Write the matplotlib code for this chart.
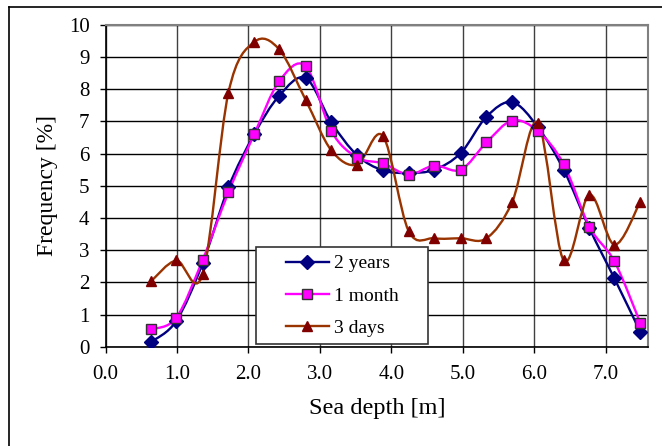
import numpy as np
import matplotlib
matplotlib.use('Agg')
from matplotlib import pyplot as plt
from matplotlib.path import Path
from matplotlib.patches import PathPatch, Rectangle
from matplotlib.lines import Line2D

plt.rcParams['font.family'] = ['Liberation Serif', 'DejaVu Serif']

# sea depth [m]
depth = [0.64, 0.99, 1.36, 1.72, 2.08, 2.43, 2.80, 3.16, 3.52, 3.88,
         4.24, 4.60, 4.97, 5.33, 5.69, 6.05, 6.41, 6.77, 7.12, 7.48]

# frequency [%]
freq_2years = [0.15, 0.8, 2.6, 4.95, 6.6, 7.8, 8.35, 6.97, 5.95, 5.48,
               5.4, 5.5, 6.02, 7.15, 7.6, 6.82, 5.5, 3.68, 2.12, 0.47]
freq_1month = [0.54, 0.9, 2.7, 4.8, 6.6, 8.25, 8.72, 6.7, 5.88, 5.7,
               5.35, 5.63, 5.5, 6.35, 7.03, 6.7, 5.67, 3.73, 2.65, 0.75]
freq_3days = [2.04, 2.68, 2.26, 7.9, 9.47, 9.24, 7.67, 6.1, 5.66, 6.55,
              3.6, 3.37, 3.37, 3.37, 4.5, 6.96, 2.68, 4.72, 3.17, 4.5]

series = [
    ('2 years', freq_2years, '#000080', 'D', 6.8, '#000080', '#000080'),
    ('1 month', freq_1month, '#FF00FF', 's', 7.5, '#FF00FF', '#333333'),
    ('3 days', freq_3days, '#993300', '^', 6.5, '#800000', '#800000'),
]


def smooth_path(x, y, t=1.0 / 6):
    # excel-like smoothed line: cubic bezier through the points
    pts = np.column_stack([x, y])
    n = len(pts)
    verts = [pts[0]]
    codes = [Path.MOVETO]
    for i in range(n - 1):
        p0 = pts[max(i - 1, 0)]
        p1 = pts[i]
        p2 = pts[i + 1]
        p3 = pts[min(i + 2, n - 1)]
        verts += [p1 + (p2 - p0) * t, p2 - (p3 - p1) * t, p2]
        codes += [Path.CURVE4] * 3
    return Path(verts, codes)


fig = plt.figure(figsize=(6.62, 4.46), dpi=100)
ax = fig.add_axes([0.1594, 0.2227, 0.8195, 0.7213])

for label, yv, lc, mk, ms, mfc, mec in series:
    ax.add_patch(PathPatch(smooth_path(depth, yv), fill=False, ec=lc, lw=1.7, zorder=3))
    ax.plot(depth, yv, ls='none', marker=mk, ms=ms, mfc=mfc, mec=mec, mew=1, zorder=4)

ax.set_xlim(0, 7.59)
ax.set_ylim(0, 10)
ax.set_xticks(np.arange(0, 8, 1.0))
ax.set_xticklabels(['%.1f' % v for v in np.arange(0, 8, 1.0)])
ax.set_yticks(range(0, 11))

ax.grid(True, axis='y', color='black', lw=1, zorder=0)
ax.grid(True, axis='x', color='#404040', lw=1, zorder=0)
ax.set_axisbelow(True)

for s in ['left', 'bottom']:
    ax.spines[s].set_color('black')
    ax.spines[s].set_linewidth(1.2)
for s in ['top', 'right']:
    ax.spines[s].set_color('#808080')
    ax.spines[s].set_linewidth(1.5)

ax.tick_params(axis='both', direction='out', length=4.5, width=1, labelsize=15, colors='black')
ax.tick_params(axis='x', pad=9)
ax.tick_params(axis='y', pad=7)

ax.set_xlabel('Sea depth [m]', fontsize=17.5, labelpad=10)
ax.set_ylabel('Frequency [%]', fontsize=17, labelpad=8)

# legend box
ax.add_patch(Rectangle((0.277, 0.008), 0.317, 0.302, transform=ax.transAxes,
                       fc='white', ec='#333333', lw=1.2, zorder=5))
handles = [Line2D([], [], color=lc, lw=1.7, marker=mk, ms=ms, mfc=mfc, mec=mec)
           for label, yv, lc, mk, ms, mfc, mec in series]
leg = ax.legend(handles, [s[0] for s in series], loc='center',
                bbox_to_anchor=(0.436, 0.158), frameon=False, fontsize=14,
                numpoints=1, handlelength=2.2, handletextpad=0.25,
                labelspacing=0.75)
leg.set_zorder(6)

# outer chart frame
fig.add_artist(Line2D([9.3 / 662, 9.3 / 662], [0, 1 - 7.3 / 446], color='black', lw=1.2))
fig.add_artist(Line2D([9.3 / 662, 1], [1 - 7.3 / 446, 1 - 7.3 / 446], color='black', lw=1.2))

plt.savefig('out.png', dpi=100)
